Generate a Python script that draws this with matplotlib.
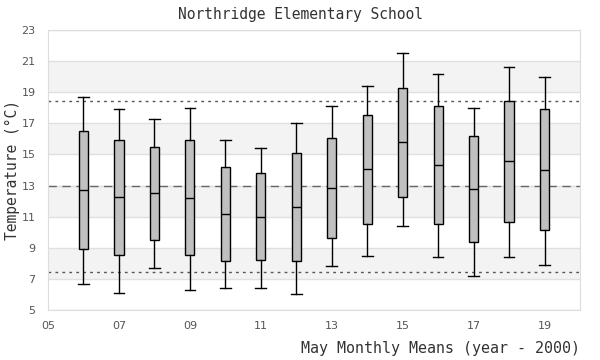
import matplotlib
matplotlib.use("Agg")
import matplotlib.pyplot as plt
import numpy as np

# May monthly means, year - 2000
years = [6, 7, 8, 9, 10, 11, 12, 13, 14, 15, 16, 17, 18, 19]
lo = [6.67, 6.09, 7.68, 6.27, 6.39, 6.39, 6.01, 7.81, 8.45, 10.38, 8.39, 7.17, 8.39, 7.87]
q1 = [8.90, 8.52, 9.48, 8.52, 8.13, 8.21, 8.13, 9.61, 10.51, 12.24, 10.51, 9.35, 10.64, 10.12]
med = [12.71, 12.24, 12.50, 12.18, 11.15, 10.96, 11.60, 12.82, 14.04, 15.78, 14.30, 12.76, 14.56, 13.98]
q3 = [16.49, 15.91, 15.46, 15.91, 14.17, 13.79, 15.07, 16.04, 17.51, 19.25, 18.09, 16.17, 18.42, 17.90]
hi = [18.67, 17.90, 17.26, 17.97, 15.91, 15.39, 17.00, 18.09, 19.38, 21.50, 20.17, 17.97, 20.60, 19.96]

overall_mean = 12.97
upper_ref = 18.43
lower_ref = 7.44

xticks = [5, 7, 9, 11, 13, 15, 17, 19]
yticks = [5, 7, 9, 11, 13, 15, 17, 19, 21, 23]

fig = plt.figure(figsize=(6, 3.6), dpi=100)
ax = fig.add_axes([0.08, 0.1389, 0.8867, 0.7778])

# alternating bands
for i in range(len(yticks) - 1):
    if i % 2 == 1:
        ax.axhspan(yticks[i], yticks[i + 1], color="#f3f3f3", zorder=0, lw=0)
for y in yticks:
    ax.axhline(y, color="#e0e0e0", lw=1, zorder=0.5)

ax.axhline(overall_mean, color="#666666", lw=1, ls=(0, (6, 4)), zorder=1)
ax.axhline(upper_ref, color="#555555", lw=1, ls=(0, (2, 3)), zorder=1)
ax.axhline(lower_ref, color="#555555", lw=1, ls=(0, (2, 3)), zorder=1)

stats = []
for i in range(len(years)):
    stats.append(dict(whislo=lo[i], q1=q1[i], med=med[i], q3=q3[i], whishi=hi[i], fliers=[]))

ax.bxp(stats, positions=years, widths=0.26, patch_artist=True, showfliers=False,
       boxprops=dict(facecolor="#c0c0c0", edgecolor="black", lw=1),
       medianprops=dict(color="black", lw=1),
       whiskerprops=dict(color="black", lw=1),
       capprops=dict(color="black", lw=1), capwidths=0.3,
       zorder=3, manage_ticks=False)

ax.set_xlim(5, 20)
ax.set_ylim(5, 23)
ax.set_xticks(xticks)
ax.set_xticklabels(["%02d" % t for t in xticks])
ax.set_yticks(yticks)
ax.tick_params(length=0, labelsize=8, labelcolor="#555555", pad=8)
ax.tick_params(axis="y", pad=9)
for s in ax.spines.values():
    s.set_color("#dddddd")

mono = "DejaVu Sans Mono"
fig.text(0.5, 0.96, "Northridge Elementary School", ha="center", va="center",
         fontsize=10.5, family=mono, color="#333333")
fig.text(0.9667, 0.033, "May Monthly Means (year - 2000)", ha="right", va="center",
         fontsize=10.8, family=mono, color="#333333")
fig.text(0.021, 0.527, "Temperature (°C)", ha="center", va="center", rotation=90,
         fontsize=10.5, family=mono, color="#333333")

fig.savefig("out.png", dpi=100)
